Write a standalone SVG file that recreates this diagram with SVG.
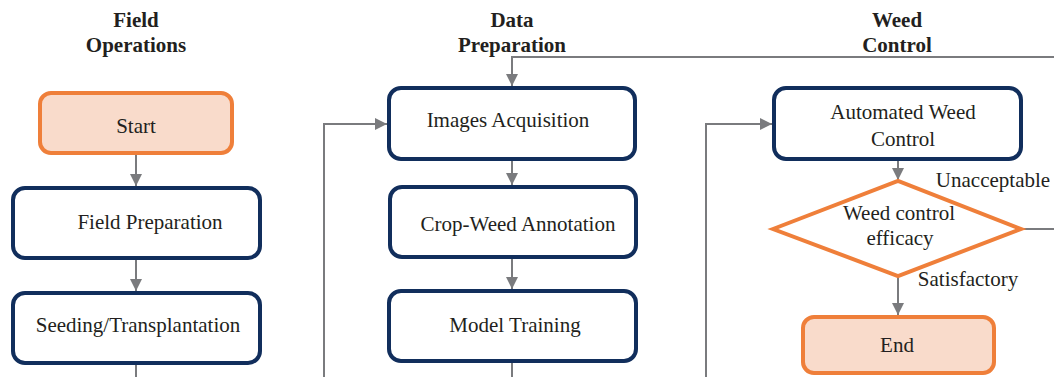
<svg xmlns="http://www.w3.org/2000/svg" width="1054" height="377" viewBox="0 0 1054 377">
<defs>
<marker id="ah" markerUnits="userSpaceOnUse" markerWidth="12" markerHeight="12" viewBox="0 0 12 12" refX="12" refY="6" orient="auto">
<path d="M0,0 L12,6 L0,12 Z" fill="#7a7b7e"/>
</marker>
<style>
.t{font-family:"Liberation Serif","Times New Roman",serif;font-size:21px;fill:#231f20;text-anchor:middle}
.h{font-family:"Liberation Serif","Times New Roman",serif;font-size:21px;font-weight:bold;fill:#231f20;text-anchor:middle}
.box{fill:#ffffff;stroke:#112e5c;stroke-width:4}
.term{fill:#f9dbcb;stroke:#ef7f3a;stroke-width:4}
.dia{fill:#ffffff;stroke:#ef7f3a;stroke-width:4;stroke-linejoin:miter}
.c{fill:none;stroke:#7a7b7e;stroke-width:2}
.ca{fill:none;stroke:#7a7b7e;stroke-width:2;marker-end:url(#ah)}
</style>
</defs>
<rect width="1054" height="377" fill="#ffffff"/>
<g id="headers">
<text class="h" x="136" y="27">Field</text>
<text class="h" x="136" y="52">Operations</text>
<text class="h" x="512" y="27">Data</text>
<text class="h" x="512" y="52">Preparation</text>
<text class="h" x="897" y="27">Weed</text>
<text class="h" x="897" y="52">Control</text>
</g>
<g id="connectors">
<path class="ca" d="M136,155 V186"/>
<path class="ca" d="M136,260 V291"/>
<path class="c" d="M136,365 V377"/>
<path class="ca" d="M324,377 V124 H387"/>
<path class="ca" d="M1054,57 H512 V86"/>
<path class="ca" d="M512,161 V185"/>
<path class="ca" d="M512,259 V289"/>
<path class="c" d="M512,363 V377"/>
<path class="ca" d="M706,377 V124 H772"/>
<path class="ca" d="M898,161 V180"/>
<path class="ca" d="M898,277 V315"/>
<path class="c" d="M1022,229 H1054"/>
</g>
<g id="start">
<rect class="term" x="40" y="93" width="192" height="60" rx="11"/>
<text class="t" x="136" y="133">Start</text>
</g>
<g id="field-preparation">
<rect class="box" x="13" y="188" width="247" height="70" rx="12"/>
<text class="t" x="150" y="229">Field Preparation</text>
</g>
<g id="seeding">
<rect class="box" x="13" y="293" width="247" height="70" rx="12"/>
<text class="t" x="138" y="332">Seeding/Transplantation</text>
</g>
<g id="images-acquisition">
<rect class="box" x="389" y="88" width="246" height="71" rx="12"/>
<text class="t" x="508" y="127">Images Acquisition</text>
</g>
<g id="crop-weed-annotation">
<rect class="box" x="390" y="187" width="246" height="70" rx="12"/>
<text class="t" x="518" y="231">Crop-Weed Annotation</text>
</g>
<g id="model-training">
<rect class="box" x="389" y="291" width="247" height="70" rx="12"/>
<text class="t" x="515" y="332">Model Training</text>
</g>
<g id="automated-weed-control">
<rect class="box" x="774" y="88" width="247" height="71" rx="12"/>
<text class="t" x="903" y="119">Automated Weed</text>
<text class="t" x="903" y="146">Control</text>
</g>
<g id="efficacy">
<polygon class="dia" points="773,229 898,181 1021,229 898,276"/>
<text class="t" x="899" y="220">Weed control</text>
<text class="t" x="900" y="245">efficacy</text>
</g>
<g id="labels">
<text class="t" x="993" y="187">Unacceptable</text>
<text class="t" x="968" y="286">Satisfactory</text>
</g>
<g id="end">
<rect class="term" x="803" y="317" width="191" height="56" rx="11"/>
<text class="t" x="897" y="352">End</text>
</g>
</svg>
